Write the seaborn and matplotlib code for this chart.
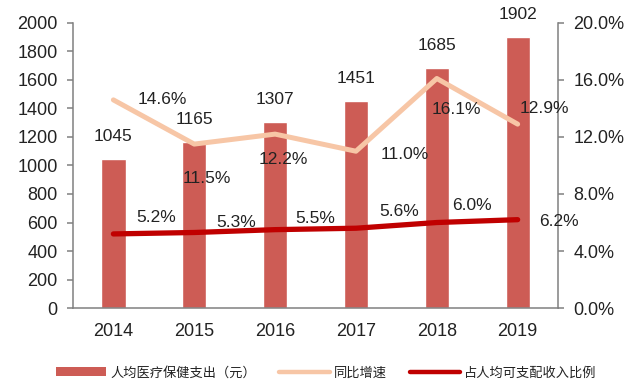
import numpy as np
import pandas as pd
import matplotlib
matplotlib.use("Agg")
import matplotlib.pyplot as plt
from matplotlib.patches import Patch
from matplotlib.lines import Line2D
import seaborn as sns

# ---- data ----
years = ["2014", "2015", "2016", "2017", "2018", "2019"]
spending = [1045, 1165, 1307, 1451, 1685, 1902]
growth = [14.6, 11.5, 12.2, 11.0, 16.1, 12.9]
ratio = [5.2, 5.3, 5.5, 5.6, 6.0, 6.2]
legend_labels = ["人均医疗保健支出（元）", "同比增速", "占人均可支配收入比例"]

# label offsets (points) -- styling only
growth_offsets = [(35, 0), (9, -25), (6, -18), (35, -2), (14, -22), (19, 11)]
ratio_offsets = [(31, 12), (30, 7), (29, 8), (31, 12), (25, 12), (30, -1)]

sns.set_style("white")
plt.rcParams["font.family"] = ["Liberation Sans", "Noto Sans CJK SC", "DejaVu Sans"]

bar_color = "#CD5C55"
growth_color = "#F7C6A6"
ratio_color = "#C00000"
text_color = "#222222"
spine_color = "#808080"

fig = plt.figure(figsize=(6.4, 3.88), dpi=100)
ax = fig.add_axes([0.114, 0.206, 0.758, 0.735])

df = pd.DataFrame({"year": years, "spending": spending, "growth": growth, "ratio": ratio})
sns.barplot(data=df, x="year", y="spending", color=bar_color, saturation=1,
            width=0.3, ax=ax, zorder=1)
ax.set_xlim(-0.5, 5.5)
ax.set_ylim(0, 2000)
ax.set_yticks(range(0, 2001, 200))
ax.set_xlabel("")
ax.set_ylabel("")

for i, v in enumerate(spending):
    ax.annotate(f"{v}", (i, v), xytext=(0, 16), textcoords="offset points",
                ha="center", va="center", fontsize=12.5, color=text_color)

ax2 = ax.twinx()
x_pos = np.arange(len(years))
sns.lineplot(x=x_pos, y=growth, color=growth_color, linewidth=3.6, ax=ax2,
             solid_capstyle="round", zorder=3)
sns.lineplot(x=x_pos, y=ratio, color=ratio_color, linewidth=3.8, ax=ax2,
             solid_capstyle="round", zorder=4)
ax2.set_ylim(0, 20)
ax2.set_yticks(np.arange(0, 20.1, 4))
ax2.set_yticklabels([f"{t:.1f}%" for t in np.arange(0, 20.1, 4)])
ax2.set_xlim(-0.5, 5.5)

for i, v in enumerate(growth):
    ax2.annotate(f"{v:.1f}%", (i, v), xytext=growth_offsets[i], textcoords="offset points",
                 ha="center", va="center", fontsize=12.5, color=text_color, zorder=6)
for i, v in enumerate(ratio):
    ax2.annotate(f"{v:.1f}%", (i, v), xytext=ratio_offsets[i], textcoords="offset points",
                 ha="center", va="center", fontsize=12.5, color=text_color, zorder=6)

# spines & ticks
for a in (ax, ax2):
    a.spines["top"].set_visible(False)
    for s in ("left", "right", "bottom"):
        a.spines[s].set_color(spine_color)
        a.spines[s].set_linewidth(1.1)
ax.spines["right"].set_visible(False)
ax2.spines["left"].set_visible(False)
ax2.spines["bottom"].set_visible(False)

ax.set_xticks(np.arange(-0.5, 6, 1), minor=True)
ax.tick_params(axis="x", which="major", length=0, pad=11, labelsize=13, colors=text_color)
ax.tick_params(axis="x", which="minor", length=4, width=1.1, color=spine_color, direction="out")
ax.tick_params(axis="y", length=4, width=1.1, color=spine_color, direction="out",
               pad=7, labelsize=13, labelcolor=text_color, left=True)
ax2.tick_params(axis="y", length=4, width=1.1, color=spine_color, direction="out",
                pad=7, labelsize=13, labelcolor=text_color, right=True)
ax.grid(False)
ax2.grid(False)

handles = [Patch(facecolor=bar_color, edgecolor="none"),
           Line2D([0], [0], color=growth_color, linewidth=3.2),
           Line2D([0], [0], color=ratio_color, linewidth=3.2)]
fig.legend(handles, legend_labels, loc="center", bbox_to_anchor=(0.51, 0.039),
           ncol=3, frameon=False, fontsize=9.5, handlelength=3.8, handleheight=0.6,
           handletextpad=0.3, columnspacing=1.8, labelcolor=text_color)

fig.savefig("out.png", dpi=100)
